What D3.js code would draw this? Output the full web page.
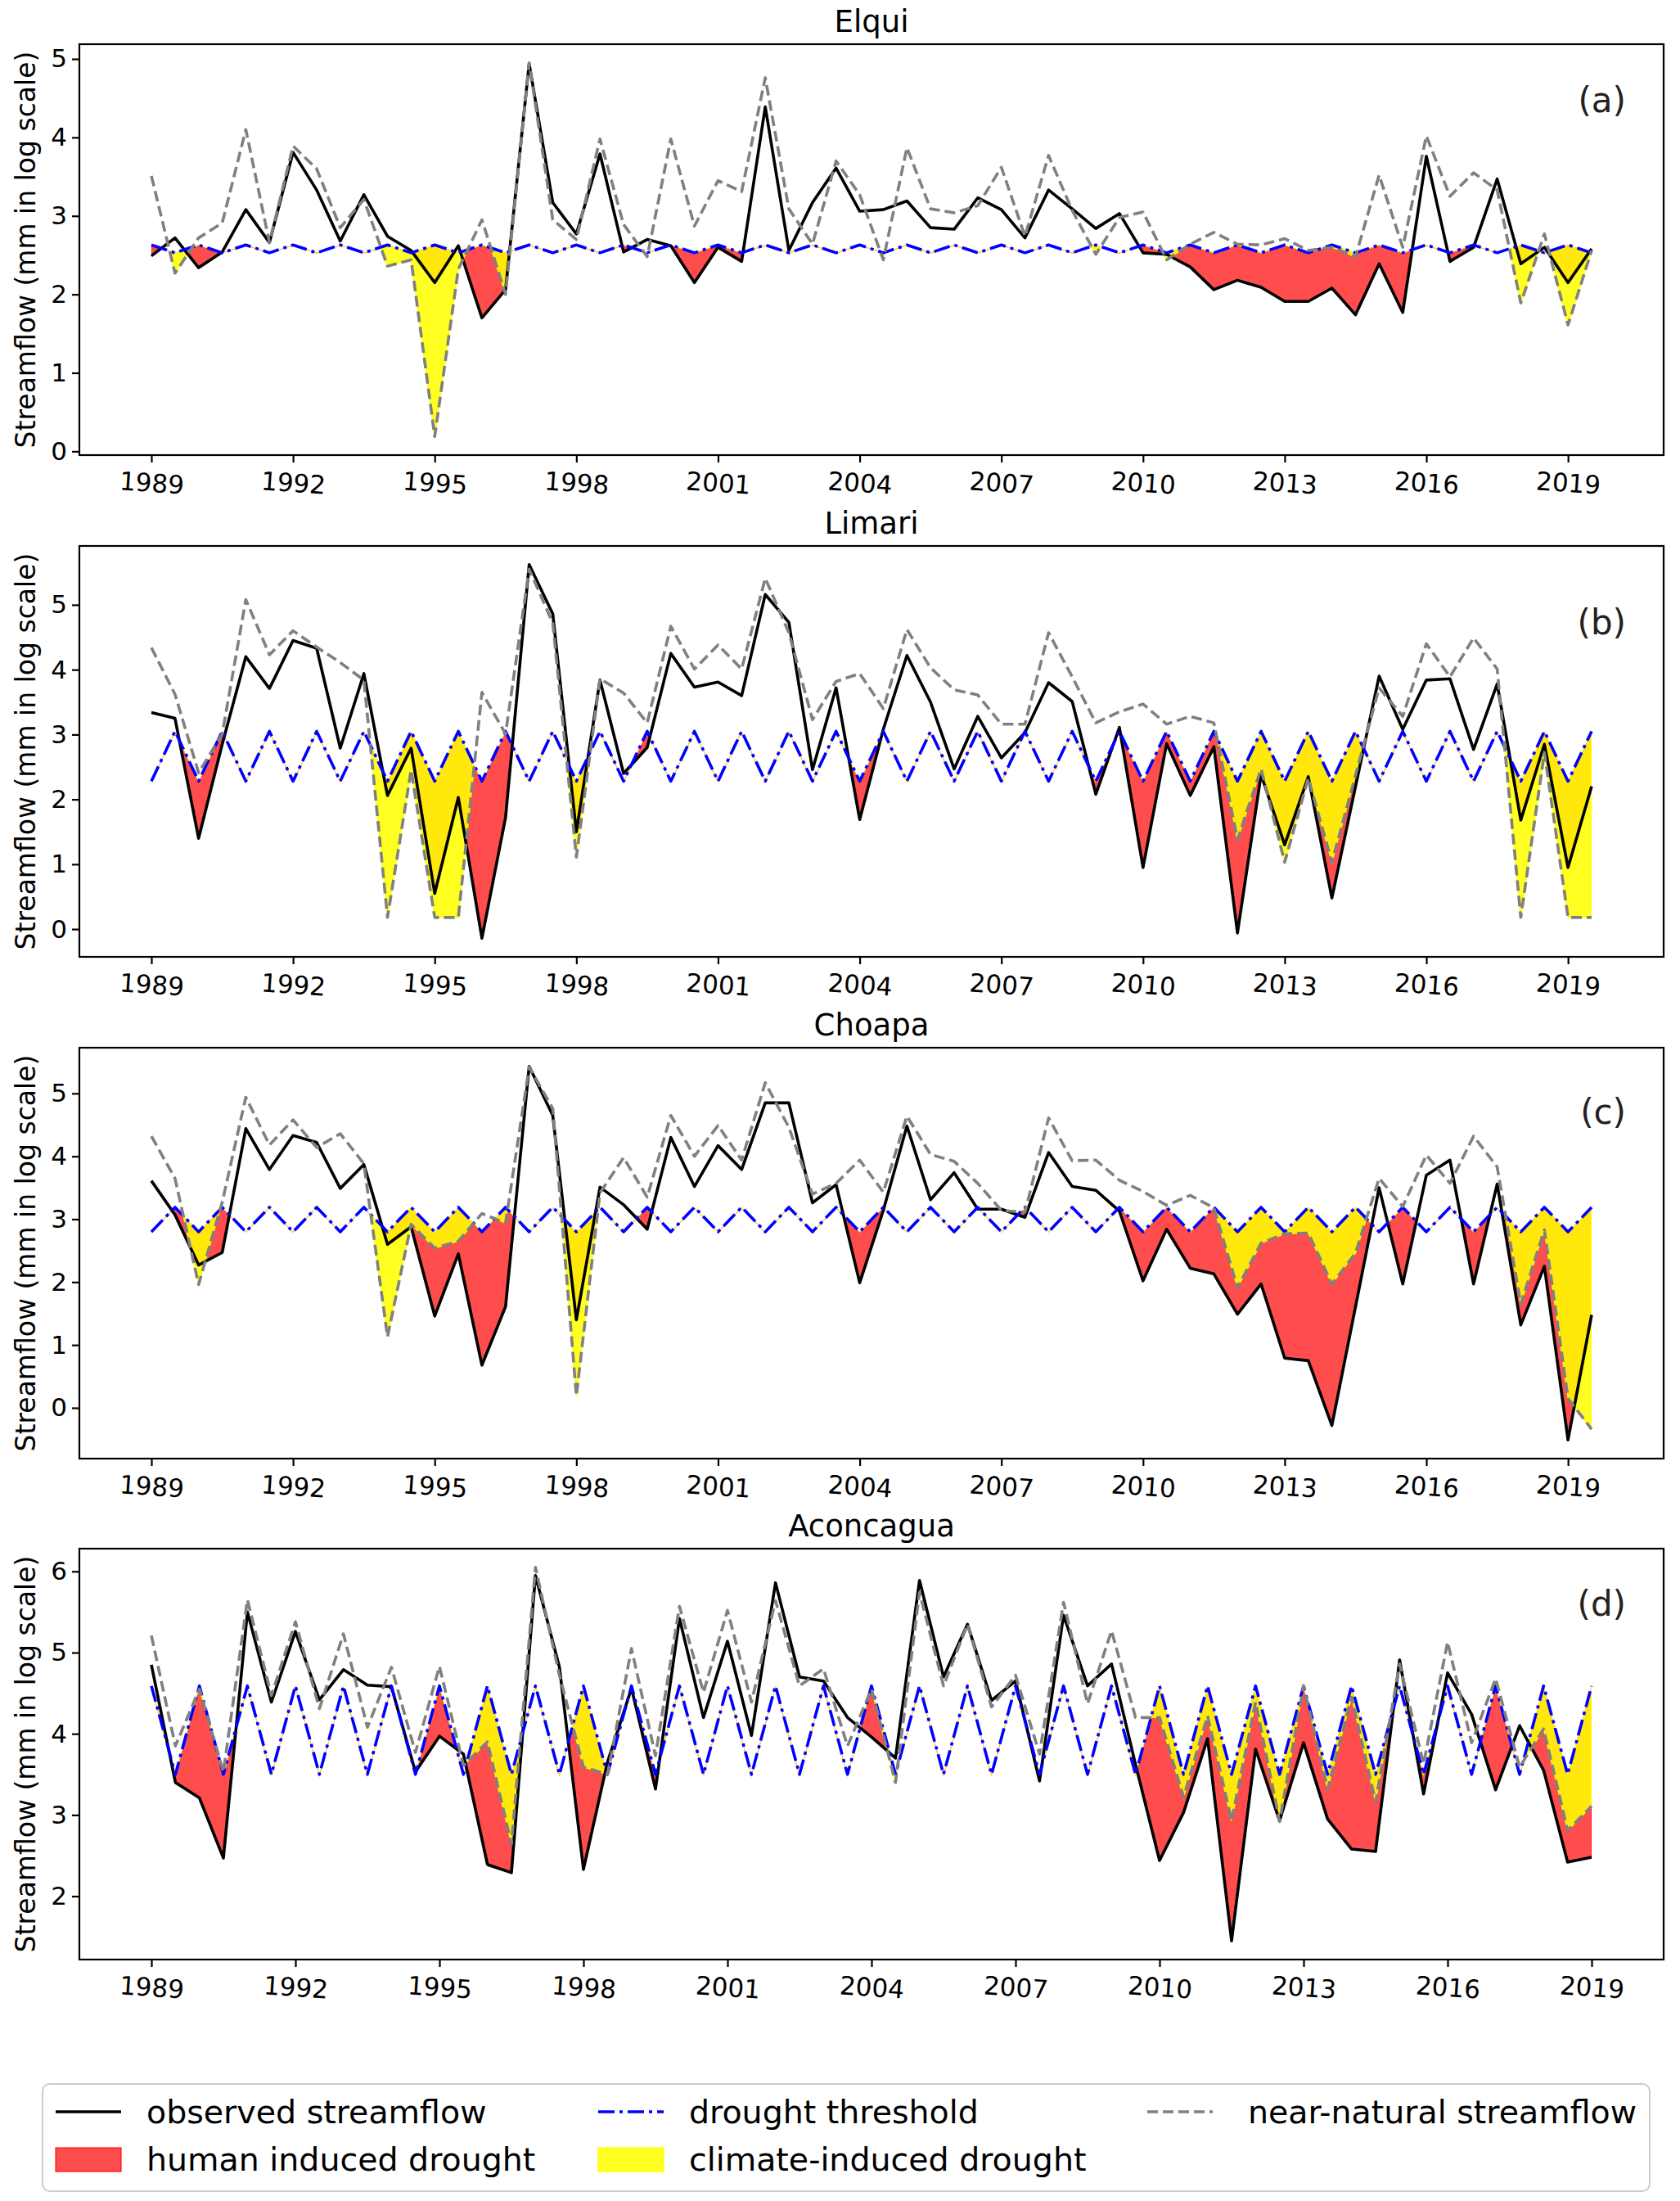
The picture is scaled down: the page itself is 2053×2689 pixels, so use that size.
<!DOCTYPE html>
<html>
<head>
<meta charset="utf-8">
<script src="https://cdn.jsdelivr.net/npm/d3@7"></script>
<style>
  body { margin: 0; background: #fff; }
  svg text { font-family: "DejaVu Sans", sans-serif; }
</style>
</head>
<body>
<div id="chart"></div>
<script>
// half-year time steps (first and second season of each year)
const periods = [1989, 1989.5, 1990, 1990.5, 1991, 1991.5, 1992, 1992.5, 1993, 1993.5,
  1994, 1994.5, 1995, 1995.5, 1996, 1996.5, 1997, 1997.5, 1998, 1998.5,
  1999, 1999.5, 2000, 2000.5, 2001, 2001.5, 2002, 2002.5, 2003, 2003.5,
  2004, 2004.5, 2005, 2005.5, 2006, 2006.5, 2007, 2007.5, 2008, 2008.5,
  2009, 2009.5, 2010, 2010.5, 2011, 2011.5, 2012, 2012.5, 2013, 2013.5,
  2014, 2014.5, 2015, 2015.5, 2016, 2016.5, 2017, 2017.5, 2018, 2018.5,
  2019, 2019.5];
const xTicks = [1989, 1992, 1995, 1998, 2001, 2004, 2007, 2010, 2013, 2016, 2019];
const basinNames = ['Elqui', 'Limari', 'Choapa', 'Aconcagua'];
const panelTags = ['(a)', '(b)', '(c)', '(d)'];

const elquiObserved = [2.49, 2.72, 2.34, 2.54, 3.08, 2.66, 3.81, 3.33, 2.68, 3.27,
  2.74, 2.56, 2.15, 2.62, 1.70, 2.06, 4.94, 3.17, 2.77, 3.79,
  2.54, 2.70, 2.62, 2.15, 2.60, 2.42, 4.39, 2.56, 3.17, 3.61,
  3.06, 3.08, 3.19, 2.85, 2.83, 3.23, 3.08, 2.72, 3.33, 3.09,
  2.84, 3.03, 2.53, 2.51, 2.35, 2.06, 2.18, 2.09, 1.91, 1.91,
  2.08, 1.74, 2.39, 1.77, 3.76, 2.42, 2.60, 3.47, 2.39, 2.60,
  2.15, 2.58];
const elquiNatural = [3.51, 2.27, 2.72, 2.91, 4.10, 2.66, 3.89, 3.60, 2.85, 3.21,
  2.36, 2.44, 0.19, 2.32, 2.95, 2.00, 4.95, 2.95, 2.70, 3.98,
  2.89, 2.48, 3.98, 2.87, 3.45, 3.31, 4.76, 3.09, 2.64, 3.70,
  3.27, 2.44, 3.87, 3.09, 3.04, 3.13, 3.62, 2.74, 3.77, 3.07,
  2.51, 2.98, 3.05, 2.44, 2.64, 2.79, 2.64, 2.63, 2.71, 2.56,
  2.60, 2.48, 3.52, 2.60, 4.02, 3.25, 3.55, 3.33, 1.89, 2.77,
  1.61, 2.56];
const elquiThreshold = [2.63, 2.53]; // [first season, second season]

const limariObserved = [3.34, 3.25, 1.40, 2.85, 4.20, 3.71, 4.45, 4.33, 2.79, 3.94,
  2.06, 2.79, 0.55, 2.03, -0.14, 1.72, 5.62, 4.86, 1.50, 3.84,
  2.40, 2.80, 4.25, 3.73, 3.81, 3.60, 5.16, 4.73, 2.46, 3.72,
  1.69, 3.08, 4.22, 3.50, 2.47, 3.28, 2.64, 3.03, 3.80, 3.51,
  2.08, 3.11, 0.95, 2.86, 2.06, 2.81, -0.06, 2.38, 1.30, 2.35,
  0.48, 2.20, 3.90, 3.08, 3.84, 3.86, 2.77, 3.78, 1.68, 2.85,
  0.95, 2.20];
const limariNatural = [4.34, 3.62, 2.41, 3.01, 5.08, 4.23, 4.60, 4.35, 4.11, 3.84,
  0.18, 2.45, 0.18, 0.18, 3.65, 3.01, 5.55, 4.72, 1.11, 3.86,
  3.64, 3.18, 4.67, 4.01, 4.38, 4.01, 5.41, 4.57, 3.23, 3.82,
  3.94, 3.40, 4.62, 4.03, 3.69, 3.61, 3.16, 3.16, 4.57, 3.89,
  3.18, 3.35, 3.47, 3.16, 3.28, 3.18, 1.38, 2.47, 1.03, 2.33,
  1.03, 2.37, 3.72, 3.28, 4.40, 3.89, 4.49, 4.01, 0.18, 2.72,
  0.18, 0.18];
const limariThreshold = [2.28, 3.05];

const choapaObserved = [3.61, 3.07, 2.27, 2.47, 4.44, 3.79, 4.33, 4.22, 3.49, 3.87,
  2.60, 2.88, 1.46, 2.45, 0.68, 1.61, 5.43, 4.65, 1.40, 3.51,
  3.23, 2.84, 4.30, 3.52, 4.17, 3.79, 4.85, 4.85, 3.26, 3.55,
  1.99, 3.14, 4.48, 3.31, 3.74, 3.16, 3.16, 3.03, 4.06, 3.52,
  3.46, 3.13, 2.02, 2.84, 2.22, 2.13, 1.49, 1.97, 0.79, 0.75,
  -0.28, 1.61, 3.50, 1.97, 3.70, 3.94, 1.97, 3.56, 1.32, 2.25,
  -0.51, 1.48];
const choapaNatural = [4.32, 3.65, 1.96, 3.27, 4.94, 4.18, 4.58, 4.14, 4.36, 3.88,
  1.13, 2.92, 2.54, 2.65, 3.09, 2.94, 5.42, 4.76, 0.19, 3.42,
  3.98, 3.35, 4.65, 4.00, 4.49, 3.94, 5.17, 4.46, 3.40, 3.57,
  3.94, 3.43, 4.64, 4.03, 3.92, 3.57, 3.14, 3.11, 4.61, 3.93,
  3.94, 3.62, 3.44, 3.22, 3.38, 3.18, 1.91, 2.62, 2.77, 2.78,
  1.97, 2.46, 3.65, 3.20, 4.02, 3.57, 4.32, 3.83, 1.65, 2.83,
  0.15, -0.34];
const choapaThreshold = [2.80, 3.19];

// Aconcagua series ends in 2019
const aconcaguaObserved = [4.85, 3.40, 3.21, 2.47, 5.50, 4.39, 5.26, 4.42, 4.79, 4.60,
  4.58, 3.53, 3.97, 3.75, 2.39, 2.29, 5.95, 4.82, 2.33, 3.65,
  4.56, 3.32, 5.42, 4.20, 5.14, 3.98, 5.86, 4.70, 4.65, 4.20,
  3.96, 3.70, 5.89, 4.70, 5.35, 4.41, 4.65, 3.42, 5.46, 4.59,
  4.86, 3.62, 2.44, 3.03, 3.94, 1.45, 3.81, 2.93, 3.89, 2.95,
  2.58, 2.55, 4.91, 3.26, 4.75, 4.24, 3.31, 4.10, 3.55, 2.42,
  2.48];
const aconcaguaNatural = [5.21, 3.85, 4.55, 3.53, 5.65, 4.47, 5.38, 4.31, 5.23, 4.08,
  4.82, 3.77, 4.83, 3.61, 3.90, 2.64, 6.05, 4.72, 3.59, 3.50,
  5.05, 3.73, 5.57, 4.51, 5.52, 4.39, 5.64, 4.59, 4.80, 3.85,
  4.55, 3.40, 5.74, 4.59, 5.35, 4.33, 4.72, 3.75, 5.62, 4.37,
  5.27, 4.20, 4.20, 3.22, 4.22, 2.93, 4.39, 2.92, 4.59, 3.32,
  4.45, 3.16, 4.86, 3.63, 5.13, 3.89, 4.68, 3.59, 4.06, 2.81,
  3.11];
const aconcaguaThreshold = [4.59, 3.50];

const panels = [
  { obs: elquiObserved, nat: elquiNatural, thr: elquiThreshold },
  { obs: limariObserved, nat: limariNatural, thr: limariThreshold },
  { obs: choapaObserved, nat: choapaNatural, thr: choapaThreshold },
  { obs: aconcaguaObserved, nat: aconcaguaNatural, thr: aconcaguaThreshold }
];

const width = 2053;
const height = 2689;
const left = 97;
const right = 2033;
const panelTop = [54, 667, 1280, 1892];
const panelH = 502;
const tagOffset = [83, 108, 93, 82];

const svg = d3.select('#chart').append('svg')
  .attr('width', width)
  .attr('height', height)
  .style('background', '#fff');
const defs = svg.append('defs');

panels.forEach((p, k) => {
  const top = panelTop[k];
  const bottom = top + panelH;
  const rows = p.obs.map((v, i) => ({
    t: periods[i], obs: v, nat: p.nat[i], thr: p.thr[i % 2]
  }));

  // matplotlib-like 5% margins
  const tExt = d3.extent(rows, d => d.t);
  const tPad = (tExt[1] - tExt[0]) * 0.05;
  const x = d3.scaleLinear().domain([tExt[0] - tPad, tExt[1] + tPad]).range([left, right]);
  const vExt = d3.extent(rows.flatMap(d => [d.obs, d.nat, d.thr]));
  const vPad = (vExt[1] - vExt[0]) * 0.05;
  const y = d3.scaleLinear().domain([vExt[0] - vPad, vExt[1] + vPad]).range([bottom, top]);

  const g = svg.append('g');

  // region under the threshold line, used to clip the drought fills
  defs.append('clipPath')
    .attr('id', 'below' + k)
    .append('path')
    .attr('d', d3.area().x(d => x(d.t)).y0(bottom).y1(d => y(d.thr))(rows));

  g.append('path')
    .attr('clip-path', `url(#below${k})`)
    .attr('d', d3.area().x(d => x(d.t)).y0(d => y(d.thr)).y1(d => y(d.obs))(rows))
    .attr('fill', '#ff0000')
    .attr('fill-opacity', 0.7)
    .attr('stroke', '#ff0000')
    .attr('stroke-opacity', 0.7)
    .attr('stroke-width', 1.5);

  g.append('path')
    .attr('clip-path', `url(#below${k})`)
    .attr('d', d3.area().x(d => x(d.t)).y0(d => y(d.thr)).y1(d => y(d.nat))(rows))
    .attr('fill', '#ffff00')
    .attr('fill-opacity', 0.87)
    .attr('stroke', '#ffff00')
    .attr('stroke-opacity', 0.87)
    .attr('stroke-width', 1.5);

  const lineStyles = [
    { key: 'obs', color: '#000000', dash: null },
    { key: 'thr', color: '#0000ff', dash: '20,6,4,6' },
    { key: 'nat', color: '#808080', dash: '13,6' }
  ];
  lineStyles.forEach(ls => {
    g.append('path')
      .attr('d', d3.line().x(d => x(d.t)).y(d => y(d[ls.key]))(rows))
      .attr('fill', 'none')
      .attr('stroke', ls.color)
      .attr('stroke-width', 3.6)
      .attr('stroke-linejoin', 'round')
      .attr('stroke-dasharray', ls.dash);
  });

  const xAxis = g.append('g')
    .attr('transform', `translate(0,${bottom})`)
    .call(d3.axisBottom(x).tickValues(xTicks).tickFormat(d3.format('d')).tickSize(9).tickPadding(14));
  xAxis.select('.domain').remove();
  xAxis.selectAll('line').attr('stroke', '#000').attr('stroke-width', 2.2);
  xAxis.selectAll('text')
    .attr('fill', '#000')
    .attr('font-size', 31)
    .attr('font-family', '"DejaVu Sans", sans-serif')
    .attr('transform', 'rotate(4,0,34)');

  const yAxis = g.append('g')
    .attr('transform', `translate(${left},0)`)
    .call(d3.axisLeft(y).ticks(6).tickSize(9).tickPadding(6));
  yAxis.select('.domain').remove();
  yAxis.selectAll('line').attr('stroke', '#000').attr('stroke-width', 2.2);
  yAxis.selectAll('text')
    .attr('fill', '#000')
    .attr('font-size', 31)
    .attr('font-family', '"DejaVu Sans", sans-serif');

  g.append('rect')
    .attr('x', left)
    .attr('y', top)
    .attr('width', right - left)
    .attr('height', panelH)
    .attr('fill', 'none')
    .attr('stroke', '#000')
    .attr('stroke-width', 2.2);

  g.append('text')
    .attr('x', (left + right) / 2)
    .attr('y', top - 15)
    .attr('text-anchor', 'middle')
    .attr('font-size', 37)
    .text(basinNames[k]);

  g.append('text')
    .attr('x', 1987)
    .attr('y', top + tagOffset[k])
    .attr('text-anchor', 'end')
    .attr('font-size', 42)
    .attr('fill', '#222')
    .text(panelTags[k]);

  g.append('text')
    .attr('transform', `translate(43,${(top + bottom) / 2}) rotate(-90)`)
    .attr('text-anchor', 'middle')
    .attr('font-size', 33)
    .text('Streamflow (mm in log scale)');
});

// legend
const legendItems = [
  { label: 'observed streamflow', type: 'line', color: '#000000', dash: null, col: 0, row: 0 },
  { label: 'human induced drought', type: 'patch', color: '#ff0000', opacity: 0.7, col: 0, row: 1 },
  { label: 'drought threshold', type: 'line', color: '#0000ff', dash: '20,6,4,6', col: 1, row: 0 },
  { label: 'climate-induced drought', type: 'patch', color: '#ffff00', opacity: 0.87, col: 1, row: 1 },
  { label: 'near-natural streamflow', type: 'line', color: '#808080', dash: '13,6', col: 2, row: 0 }
];
const colX = [68, 731, 1402];
const rowY = [2580, 2638];

const legend = svg.append('g');
legend.append('rect')
  .attr('x', 52)
  .attr('y', 2546)
  .attr('width', 1964)
  .attr('height', 131)
  .attr('rx', 9)
  .attr('fill', '#fff')
  .attr('stroke', '#cccccc')
  .attr('stroke-width', 2);

const item = legend.selectAll('g.item')
  .data(legendItems)
  .enter()
  .append('g')
  .attr('class', 'item')
  .attr('transform', d => `translate(${colX[d.col]},${rowY[d.row]})`);

item.filter(d => d.type === 'line')
  .append('line')
  .attr('x1', 0)
  .attr('x2', 80)
  .attr('stroke', d => d.color)
  .attr('stroke-width', 3.6)
  .attr('stroke-dasharray', d => d.dash);

item.filter(d => d.type === 'patch')
  .append('rect')
  .attr('x', 0)
  .attr('y', -14)
  .attr('width', 80)
  .attr('height', 29)
  .attr('fill', d => d.color)
  .attr('fill-opacity', d => d.opacity)
  .attr('stroke', d => d.color)
  .attr('stroke-opacity', d => d.opacity)
  .attr('stroke-width', 1.5);

item.append('text')
  .attr('x', d => d.col === 2 ? 123 : 111)
  .attr('dy', '0.35em')
  .attr('font-size', 39.5)
  .text(d => d.label);
</script>
</body>
</html>
